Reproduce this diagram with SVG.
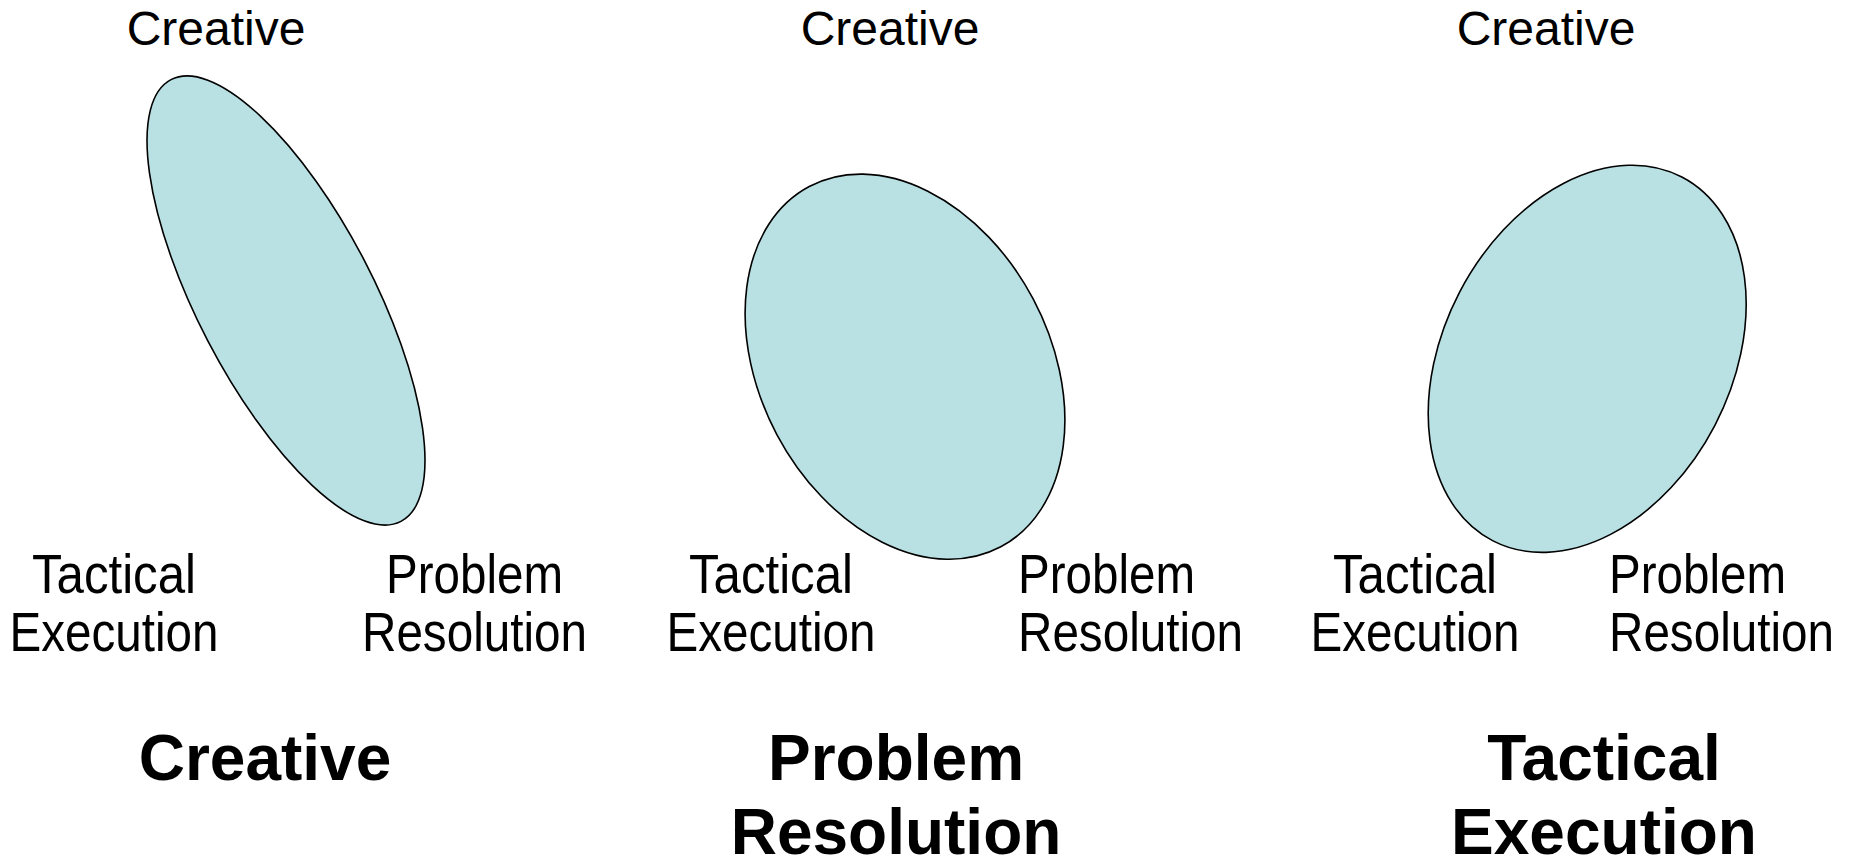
<svg xmlns="http://www.w3.org/2000/svg" width="1858" height="863" viewBox="0 0 1858 863">
<style>
.bg{fill:#ffffff}
.blob{fill:#B9E0E3;stroke:#000000;stroke-width:1.6}
.top{font-family:"Liberation Sans",Arial,sans-serif;font-size:48px;fill:#000;text-anchor:middle}
.lbl{font-family:"Liberation Sans",Arial,sans-serif;font-size:55px;fill:#000}
.mid{text-anchor:middle}
.start{text-anchor:start}
.title{font-family:"Liberation Sans",Arial,sans-serif;font-size:64px;font-weight:bold;fill:#000;text-anchor:middle}
</style>
<rect class="bg" x="0" y="0" width="1858" height="863"/>
<g id="connectors"></g>
<g id="panel-creative">
  <ellipse class="blob" cx="286" cy="300.5" rx="249" ry="88" transform="rotate(62.5 286 300.5)"/>
  <text class="top" x="216" y="45">Creative</text>
  <text class="lbl mid" x="114" y="593" textLength="164" lengthAdjust="spacingAndGlyphs">Tactical</text>
  <text class="lbl mid" x="114" y="651" textLength="209" lengthAdjust="spacingAndGlyphs">Execution</text>
  <text class="lbl mid" x="474.5" y="593" textLength="177" lengthAdjust="spacingAndGlyphs">Problem</text>
  <text class="lbl mid" x="474.5" y="651" textLength="225" lengthAdjust="spacingAndGlyphs">Resolution</text>
  <text class="title" x="265" y="780">Creative</text>
</g>
<g id="panel-problem">
  <ellipse class="blob" cx="905" cy="366.7" rx="204" ry="145" transform="rotate(62 905 366.7)"/>
  <text class="top" x="890" y="45">Creative</text>
  <text class="lbl mid" x="771" y="593" textLength="164" lengthAdjust="spacingAndGlyphs">Tactical</text>
  <text class="lbl mid" x="771" y="651" textLength="209" lengthAdjust="spacingAndGlyphs">Execution</text>
  <text class="lbl start" x="1018" y="593" textLength="177" lengthAdjust="spacingAndGlyphs">Problem</text>
  <text class="lbl start" x="1018" y="651" textLength="225" lengthAdjust="spacingAndGlyphs">Resolution</text>
  <text class="title" x="896" y="780">Problem</text>
  <text class="title" x="896" y="854">Resolution</text>
</g>
<g id="panel-tactical">
  <ellipse class="blob" cx="1587.2" cy="358.8" rx="205" ry="144" transform="rotate(-62.5 1587.2 358.8)"/>
  <text class="top" x="1546" y="45">Creative</text>
  <text class="lbl mid" x="1415" y="593" textLength="164" lengthAdjust="spacingAndGlyphs">Tactical</text>
  <text class="lbl mid" x="1415" y="651" textLength="209" lengthAdjust="spacingAndGlyphs">Execution</text>
  <text class="lbl start" x="1609" y="593" textLength="177" lengthAdjust="spacingAndGlyphs">Problem</text>
  <text class="lbl start" x="1609" y="651" textLength="225" lengthAdjust="spacingAndGlyphs">Resolution</text>
  <text class="title" x="1604" y="780">Tactical</text>
  <text class="title" x="1604" y="854">Execution</text>
</g>
</svg>
